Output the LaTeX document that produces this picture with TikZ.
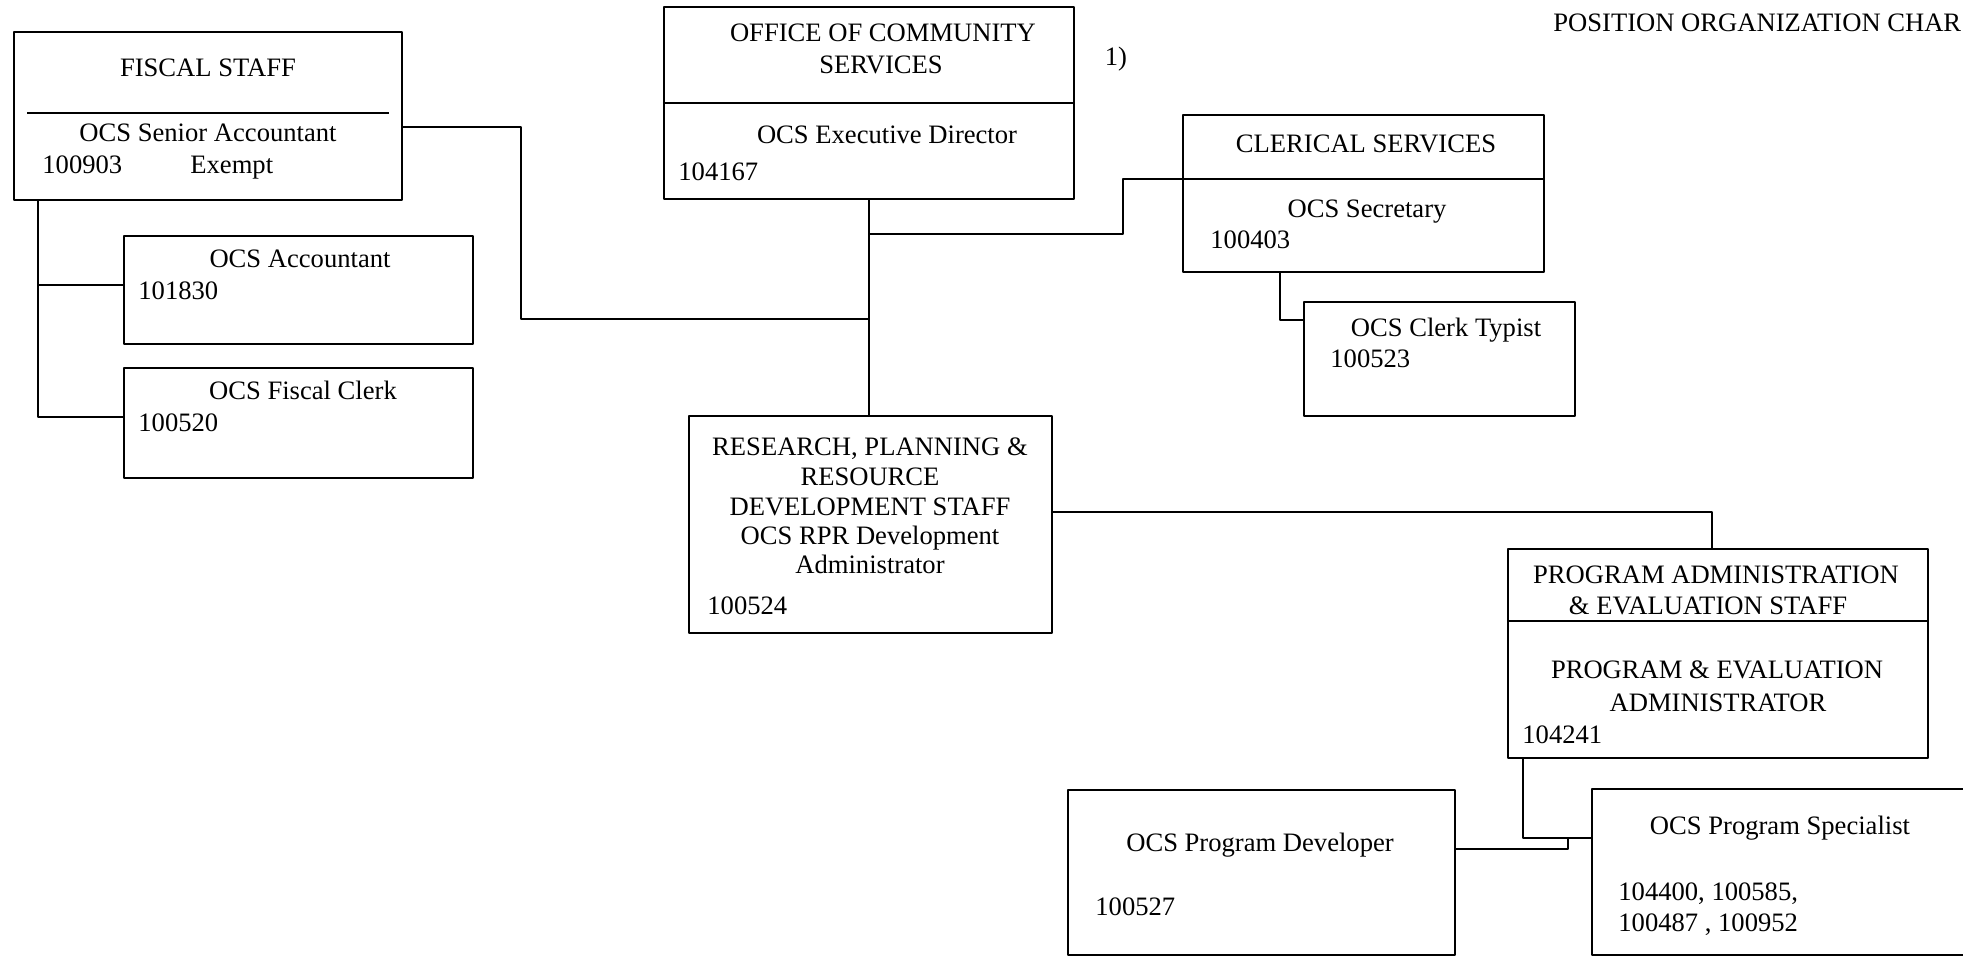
\documentclass[tikz,border=0pt]{standalone}
\usepackage{fontspec}
\setmainfont{Liberation Serif}
\usetikzlibrary{fit}
\begin{document}
\begin{tikzpicture}[x=0.5pt,y=-0.5pt,line join=round,
  box/.style={draw,line width=1.1pt,inner sep=0pt},
  txt/.style={inner sep=0pt,anchor=base,font=\fontsize{13.3}{16}\selectfont},
  num/.style={txt,anchor=base west},
  link/.style={line width=0.7pt}]
  \useasboundingbox (0,0) rectangle (1963,957);

  % boxes
  \node[box,fit={(14,32) (402,200)}] (fiscal) {};
  \node[box,fit={(124,236) (473,344)}] (acct) {};
  \node[box,fit={(124,368) (473,478)}] (fclerk) {};
  \node[box,fit={(664,7) (1074,199)}] (ocs) {};
  \node[box,fit={(1183,115) (1544,272)}] (cler) {};
  \node[box,fit={(1304,302) (1575,416)}] (typist) {};
  \node[box,fit={(689,416) (1052,633)}] (rpr) {};
  \node[box,fit={(1508,549) (1928,758)}] (pa) {};
  \node[box,fit={(1068,790) (1455,955)}] (dev) {};
  \node[box,fit={(1592,789) (1995,955)}] (spec) {};

  % dividers
  \draw[link] (27,113) -- (389,113);
  \draw[link] (ocs.west |- 0,103) -- (ocs.east |- 0,103);
  \draw[link] (cler.west |- 0,179) -- (cler.east |- 0,179);
  \draw[link] (pa.west |- 0,621) -- (pa.east |- 0,621);

  % bends
  \coordinate (fsplit) at (521,127);
  \coordinate (fjoin) at (870,319);
  \coordinate (abend) at (38,285);
  \coordinate (kbend) at (38,417);
  \coordinate (cbend) at (1123,234);
  \coordinate (tbend) at (1280,320);
  \coordinate (pbend) at (1712,512);
  \coordinate (sbend) at (1523,838);
  \coordinate (dbend) at (1568,849);

  % connectors
  \draw[link] (ocs.south) -- (ocs.south |- rpr.north);
  \draw[link] (fiscal.east |- fsplit) -- (fsplit) |- (fjoin);
  \draw[link] (fiscal.south -| abend) -- (kbend) -- (fclerk.west |- kbend);
  \draw[link] (abend) -- (acct.west |- abend);
  \draw[link] (ocs.south |- cbend) -- (cbend) |- (cler.west |- 0,179);
  \draw[link] (cler.south -| tbend) -- (tbend) -- (typist.west |- tbend);
  \draw[link] (rpr.east |- pbend) -- (pbend) -- (pa.north -| pbend);
  \draw[link] (pa.south -| sbend) -- (sbend) -- (spec.west |- sbend);
  \draw[link] (dev.east |- dbend) -- (dbend) -- (dbend |- sbend);

  % texts
  \node[num] (title) at (1553,32) {POSITION ORGANIZATION CHAR};
  \node[txt] (note) at (1116,66) {1)};

  \node[txt] (fiscalhead) at (208,77) {FISCAL STAFF};
  \node[txt] (fiscalpos) at (208,142) {OCS Senior Accountant};
  \node[num] (fiscalnum) at (42,174) {100903};
  \node[num] (fiscalex) at (190,174) {Exempt};
  \node[txt] (acctpos) at (300,267) {OCS Accountant};
  \node[num] (acctnum) at (138,299) {101830};
  \node[txt] (fclerkpos) at (303,399) {OCS Fiscal Clerk};
  \node[num] (fclerknum) at (138,431) {100520};

  \node[txt] (ocshead) at (883,42) {OFFICE OF COMMUNITY};
  \node[txt] (ocshead2) at (881,74) {SERVICES};
  \node[txt] (ocspos) at (887,144) {OCS Executive Director};
  \node[num] (ocsnum) at (678,181) {104167};

  \node[txt] (clerhead) at (1366,153) {CLERICAL SERVICES};
  \node[txt] (clerpos) at (1367,218) {OCS Secretary};
  \node[num] (clernum) at (1210,249) {100403};
  \node[txt] (typistpos) at (1446,336) {OCS Clerk Typist};
  \node[num] (typistnum) at (1330,367) {100523};

  \node[txt] (rprhead) at (870,455) {RESEARCH, PLANNING \&};
  \node[txt] (rprhead2) at (870,485) {RESOURCE};
  \node[txt] (rprhead3) at (870,515) {DEVELOPMENT STAFF};
  \node[txt] (rprpos) at (870,544) {OCS RPR Development};
  \node[txt] (rprpos2) at (870,573) {Administrator};
  \node[num] (rprnum) at (707,614) {100524};

  \node[txt] (pahead) at (1716,583) {PROGRAM ADMINISTRATION};
  \node[txt] (pahead2) at (1708,614) {\& EVALUATION STAFF};
  \node[txt] (papos) at (1717,678) {PROGRAM \& EVALUATION};
  \node[txt] (papos2) at (1718,711) {ADMINISTRATOR};
  \node[num] (panum) at (1522,743) {104241};

  \node[txt] (devpos) at (1260,851) {OCS Program Developer};
  \node[num] (devnum) at (1095,915) {100527};
  \node[txt] (specpos) at (1780,834) {OCS Program Specialist};
  \node[num] (specnum) at (1618,900) {104400, 100585,};
  \node[num] (specnum2) at (1618,931) {100487 , 100952};
\end{tikzpicture}
\end{document}
